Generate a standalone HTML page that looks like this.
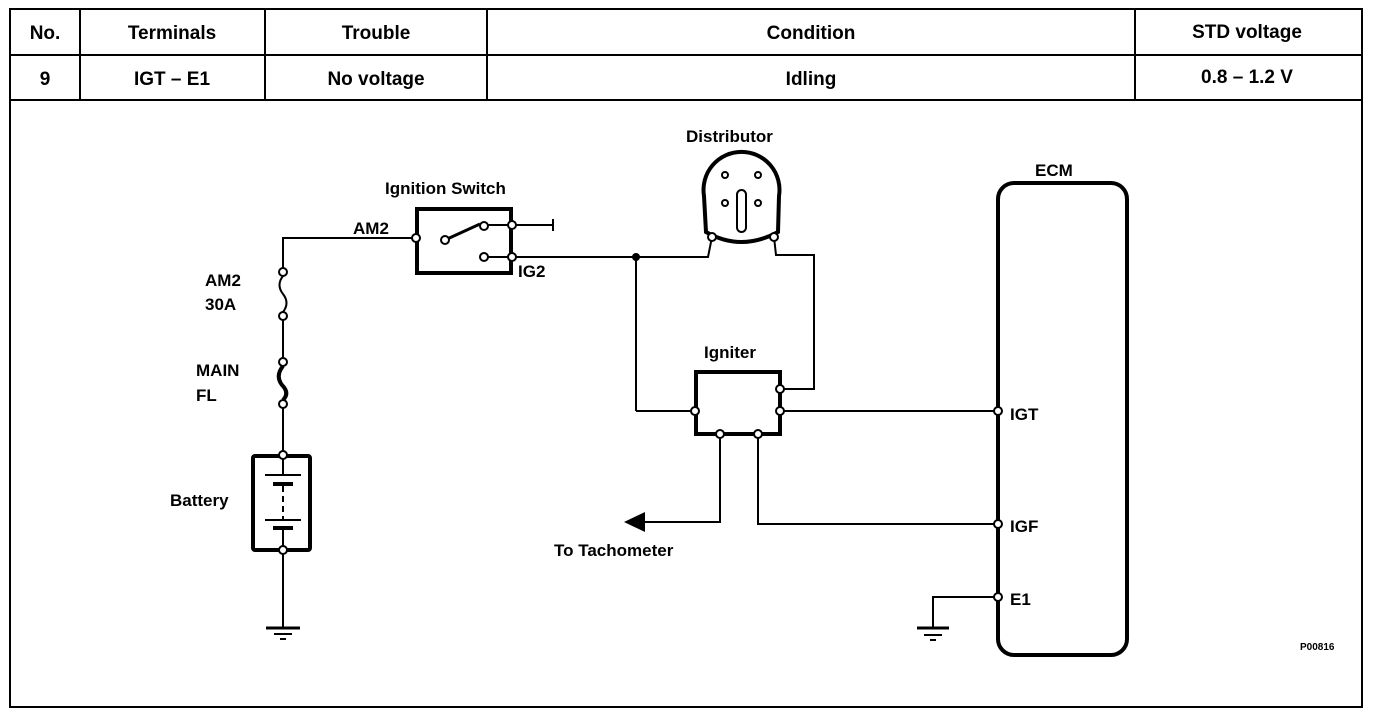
<!DOCTYPE html>
<html><head><meta charset="utf-8"><style>
html,body{margin:0;padding:0;background:#fff;}
svg{display:block;}
text{font-family:"Liberation Sans",Arial,sans-serif;font-weight:bold;fill:#000;}
</style></head><body>
<svg width="1392" height="720" viewBox="0 0 1392 720" xmlns="http://www.w3.org/2000/svg">
<g stroke="#000" stroke-width="2" fill="none">
<rect x="10" y="9" width="1352" height="698"/>
<line x1="10" y1="55" x2="1362" y2="55"/>
<line x1="10" y1="100" x2="1362" y2="100"/>
<line x1="80" y1="9" x2="80" y2="100"/>
<line x1="265" y1="9" x2="265" y2="100"/>
<line x1="487" y1="9" x2="487" y2="100"/>
<line x1="1135" y1="9" x2="1135" y2="100"/>
</g>
<g font-size="19" text-anchor="middle">
<text x="45" y="39">No.</text>
<text x="172" y="39">Terminals</text>
<text x="376" y="39">Trouble</text>
<text x="811" y="39">Condition</text>
<text x="1247" y="38">STD voltage</text>
<text x="45" y="85">9</text>
<text x="172" y="85">IGT – E1</text>
<text x="376" y="85">No voltage</text>
<text x="811" y="85">Idling</text>
<text x="1247" y="83">0.8 – 1.2 V</text>
</g>
<g stroke="#000" fill="none" stroke-width="2">
<!-- left wire -->
<polyline points="416,238 283,238 283,272"/>
<path d="M283,276 Q276,285 283,294 Q290,303 283,312"/>
<line x1="283" y1="316" x2="283" y2="362"/>
<path d="M283,366 Q275,376 282,385 Q290,393 283,400" stroke-width="4"/>
<line x1="283" y1="404" x2="283" y2="455"/>
<rect x="253" y="456" width="57" height="94" stroke-width="4" rx="2"/>
<line x1="283" y1="455" x2="283" y2="475"/>
<line x1="265" y1="475" x2="301" y2="475"/>
<line x1="273" y1="484" x2="293" y2="484" stroke-width="4"/>
<line x1="283" y1="486" x2="283" y2="520" stroke-dasharray="6,4"/>
<line x1="265" y1="520" x2="301" y2="520"/>
<line x1="273" y1="528" x2="293" y2="528" stroke-width="4"/>
<line x1="283" y1="530" x2="283" y2="628"/>
<line x1="266" y1="628" x2="300" y2="628" stroke-width="3"/>
<line x1="274" y1="634" x2="292" y2="634"/>
<line x1="280" y1="639" x2="286" y2="639"/>
<!-- switch -->
<rect x="417" y="209" width="94" height="64" stroke-width="4"/>
<line x1="445" y1="240" x2="480" y2="224" stroke-width="3"/>
<line x1="488" y1="225" x2="553" y2="225"/>
<line x1="553" y1="219" x2="553" y2="231"/>
<line x1="488" y1="257" x2="636" y2="257"/>
<!-- distributor -->
<path d="M706,232 L704,196 A38,38 0 1 1 779,196 L778,232 Q741,252 706,232 Z" stroke-width="4"/>
<rect x="737" y="190" width="9" height="42" rx="4.5"/>
<polyline points="636,257 708,257 712,237"/>
<polyline points="774,237 776,255 814,255 814,389 780,389"/>
<line x1="636" y1="257" x2="636" y2="411"/>
<line x1="636" y1="411" x2="695" y2="411"/>
<!-- igniter -->
<rect x="696" y="372" width="84" height="62" stroke-width="4"/>
<line x1="780" y1="411" x2="998" y2="411"/>
<polyline points="720,434 720,522 640,522"/>
<polyline points="758,434 758,524 998,524"/>
<!-- ECM -->
<rect x="998" y="183" width="129" height="472" rx="16" stroke-width="4"/>
<polyline points="998,597 933,597 933,628"/>
<line x1="917" y1="628" x2="949" y2="628" stroke-width="3"/>
<line x1="924" y1="635" x2="942" y2="635"/>
<line x1="930" y1="640" x2="936" y2="640"/>
</g>
<polygon points="624,522 645,512 645,532" fill="#000"/>
<circle cx="636" cy="257" r="4" fill="#000"/>
<g fill="#fff" stroke="#000" stroke-width="2">
<circle cx="283" cy="272" r="4"/><circle cx="283" cy="316" r="4"/>
<circle cx="283" cy="362" r="4"/><circle cx="283" cy="404" r="4"/>
<circle cx="283" cy="455" r="4"/><circle cx="283" cy="550" r="4"/>
<circle cx="416" cy="238" r="4"/><circle cx="445" cy="240" r="4"/>
<circle cx="484" cy="226" r="4"/><circle cx="512" cy="225" r="4"/>
<circle cx="484" cy="257" r="4"/><circle cx="512" cy="257" r="4"/>
<circle cx="712" cy="237" r="4"/><circle cx="774" cy="237" r="4"/>
<circle cx="725" cy="175" r="3"/><circle cx="758" cy="175" r="3"/>
<circle cx="725" cy="203" r="3"/><circle cx="758" cy="203" r="3"/>
<circle cx="695" cy="411" r="4"/><circle cx="780" cy="389" r="4"/>
<circle cx="780" cy="411" r="4"/><circle cx="720" cy="434" r="4"/>
<circle cx="758" cy="434" r="4"/>
<circle cx="998" cy="411" r="4"/><circle cx="998" cy="524" r="4"/>
<circle cx="998" cy="597" r="4"/>
</g>
<g font-size="17">
<text x="385" y="194">Ignition Switch</text>
<text x="353" y="234">AM2</text>
<text x="518" y="277">IG2</text>
<text x="205" y="286">AM2</text>
<text x="205" y="310">30A</text>
<text x="196" y="376">MAIN</text>
<text x="196" y="401">FL</text>
<text x="170" y="506">Battery</text>
<text x="686" y="142">Distributor</text>
<text x="1035" y="176">ECM</text>
<text x="704" y="358">Igniter</text>
<text x="1010" y="420">IGT</text>
<text x="1010" y="532">IGF</text>
<text x="1010" y="605">E1</text>
<text x="554" y="556">To Tachometer</text>
<text x="1300" y="650" font-size="10" font-weight="normal">P00816</text>
</g>
</svg>
</body></html>
